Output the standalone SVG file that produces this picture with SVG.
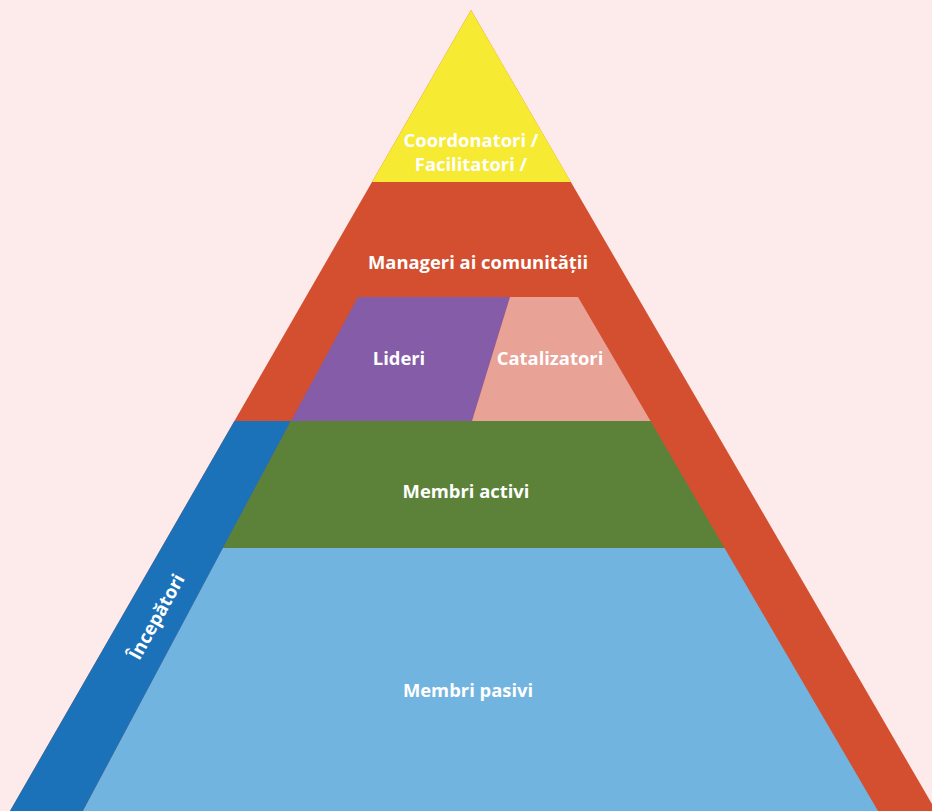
<svg xmlns="http://www.w3.org/2000/svg" width="932" height="811" viewBox="0 0 932 811">
<style>
.t{font-family:"Open Sans","Liberation Sans",Arial,sans-serif;font-weight:bold;font-size:18.4px;fill:#ffffff;text-anchor:middle}
</style>
<rect width="932" height="811" fill="#fdeaea"/>
<g id="managers">
<polygon points="471,10 936,811 10,811" fill="#d34f30"/>
<text class="t" x="478" y="269">Manageri ai comunității</text>
</g>
<g id="coordinators">
<polygon points="471,10 571,182 372,182" fill="#f7ea33"/>
<text class="t" x="471" y="147">Coordonatori /</text>
<text class="t" x="471" y="171">Facilitatori /</text>
</g>
<g id="beginners">
<polygon points="234.4,421 291,421 83,811 10,811" fill="#1c72b9"/>
<text class="t" transform="translate(157,617) rotate(-61)" x="0" y="6">Începători</text>
</g>
<g id="leaders">
<polygon points="358,297 510,297 472,421 291,421" fill="#845ca8"/>
<text class="t" x="399" y="365">Lideri</text>
</g>
<g id="catalysts">
<polygon points="510,297 578,297 650.5,421 472,421" fill="#e8a296"/>
<text class="t" x="550" y="365">Catalizatori</text>
</g>
<g id="active">
<polygon points="291,421 650.5,421 724.5,548 223,548" fill="#5c823a"/>
<text class="t" x="466" y="498">Membri activi</text>
</g>
<g id="passive">
<polygon points="223,548 724.5,548 878,811 83,811" fill="#72b4e0"/>
<text class="t" x="468" y="697">Membri pasivi</text>
</g>
</svg>
